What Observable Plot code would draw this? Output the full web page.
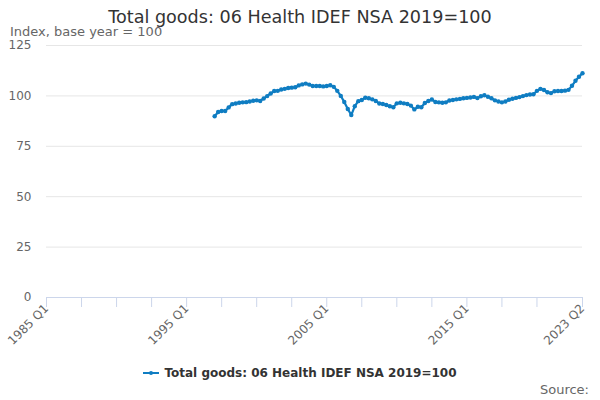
<!DOCTYPE html>
<html>
<head>
<meta charset="utf-8">
<script src="https://cdn.jsdelivr.net/npm/d3@7"></script>
<script src="https://cdn.jsdelivr.net/npm/@observablehq/plot@0.6"></script>
<style>
  body { margin: 0; background: #fff; font-family: "DejaVu Sans", sans-serif; }
  #wrap { position: relative; width: 600px; height: 400px; overflow: hidden; }
  #title { position: absolute; top: 7px; left: 0; width: 600px; text-align: center; font-size: 17.6px; color: #333; }
  #subtitle { position: absolute; top: 24px; left: 10px; font-size: 13px; color: #666; }
  #chart { position: absolute; top: 0; left: 0; }
  #legend { position: absolute; top: 366px; left: 0; width: 600px; text-align: center; font-size: 12px; font-weight: bold; color: #333; }
  #legend svg { vertical-align: -1px; margin-right: 5px; }
  #source { position: absolute; top: 382px; right: 11px; font-size: 13px; color: #666; }
</style>
</head>
<body>
<div id="wrap">
  <div id="chart"></div>
  <div id="title"></div>
  <div id="subtitle"></div>
  <div id="legend"></div>
  <div id="source"></div>
</div>
<script>
const titleText = "Total goods: 06 Health IDEF NSA 2019=100";
const subtitleText = "Index, base year = 100";
const seriesName = "Total goods: 06 Health IDEF NSA 2019=100";
const sourceText = "Source:";
const lineColor = "#0f7dc2";

// Quarter index 0 = 1985 Q1; first observation is 1997 Q1 (index 48)
const firstQuarterIndex = 48;
const values = [
  89.9, 92.0, 92.5, 92.5, 94.3, 95.9, 96.2, 96.6, 96.8, 96.9,
  97.2, 97.6, 97.8, 97.5, 98.7, 99.9, 101.2, 102.4, 102.5, 103.2,
  103.5, 103.9, 104.1, 104.3, 105.2, 105.7, 106.1, 105.6, 104.9, 104.9,
  104.9, 104.7, 104.9, 105.3, 104.5, 102.5, 100.0, 97.0, 93.5, 90.5,
  94.9, 97.4, 98.0, 99.1, 98.8, 98.3, 97.5, 96.2, 96.0, 95.5,
  94.9, 94.4, 96.3, 96.6, 96.3, 96.0, 95.2, 93.3, 94.6, 94.4,
  96.5, 97.5, 98.2, 97.0, 96.8, 96.6, 96.8, 97.7, 98.0, 98.3,
  98.5, 98.8, 99.0, 99.2, 99.5, 98.9, 99.8, 100.3, 99.6, 98.8,
  97.8, 97.2, 96.8, 97.2, 98.1, 98.6, 99.0, 99.4, 99.9, 100.4,
  100.7, 100.8, 102.5, 103.5, 102.9, 101.8, 101.4, 102.3, 102.4, 102.4,
  102.6, 103.0, 105.0, 107.5, 109.5, 111.2
];

const xDomainEnd = 153; // 2023 Q2
const xTickMarks = [0, 10, 20, 30, 40, 50, 60, 70, 80, 90, 100, 110, 120, 130, 140, 153];
const xLabelIndex = [0, 40, 80, 120, 153];
const xLabels = ["1985 Q1", "1995 Q1", "2005 Q1", "2015 Q1", "2023 Q2"];
const yTicks = [0, 25, 50, 75, 100, 125];

const data = values.map((v, i) => ({q: firstQuarterIndex + i, value: v}));

document.getElementById("title").textContent = titleText;
document.getElementById("subtitle").textContent = subtitleText;
document.getElementById("source").textContent = sourceText;

const labelMap = new Map(xLabelIndex.map((q, i) => [q, xLabels[i]]));

const plot = Plot.plot({
  width: 600,
  height: 362,
  marginTop: 45,
  marginBottom: 65,
  marginLeft: 46,
  marginRight: 18,
  style: {fontFamily: "DejaVu Sans, sans-serif", fontSize: "12px", color: "#666", background: "transparent", overflow: "visible"},
  x: {domain: [0, xDomainEnd], axis: null},
  y: {domain: [0, 125], axis: null},
  marks: [
    Plot.gridY(yTicks.filter(d => d > 0), {stroke: "#e6e6e6", strokeOpacity: 1}),
    Plot.ruleY([0], {stroke: "#ccd6eb"}),
    Plot.axisY(yTicks, {tickSize: 0, tickPadding: 15, fill: "#666", label: null, fontSize: 12}),
    Plot.axisX(xTickMarks, {tickSize: 10, stroke: "#ccd6eb", tickFormat: () => "", label: null}),
    Plot.axisX(xLabelIndex, {tickSize: 0, tickPadding: 9, tickRotate: -45, tickFormat: d => labelMap.get(d), fill: "#666", label: null, fontSize: 12}),
    Plot.line(data, {x: "q", y: "value", stroke: lineColor, strokeWidth: 2.2}),
    Plot.dot(data, {x: "q", y: "value", r: 2.2, fill: lineColor, stroke: "none"})
  ]
});
document.getElementById("chart").appendChild(plot);

const legend = document.getElementById("legend");
legend.innerHTML = `<svg width="16" height="10"><line x1="0" x2="16" y1="5" y2="5" stroke="${lineColor}" stroke-width="2"/><circle cx="8" cy="5" r="2" fill="${lineColor}"/></svg>`;
legend.appendChild(document.createTextNode(seriesName));
</script>
</body>
</html>
